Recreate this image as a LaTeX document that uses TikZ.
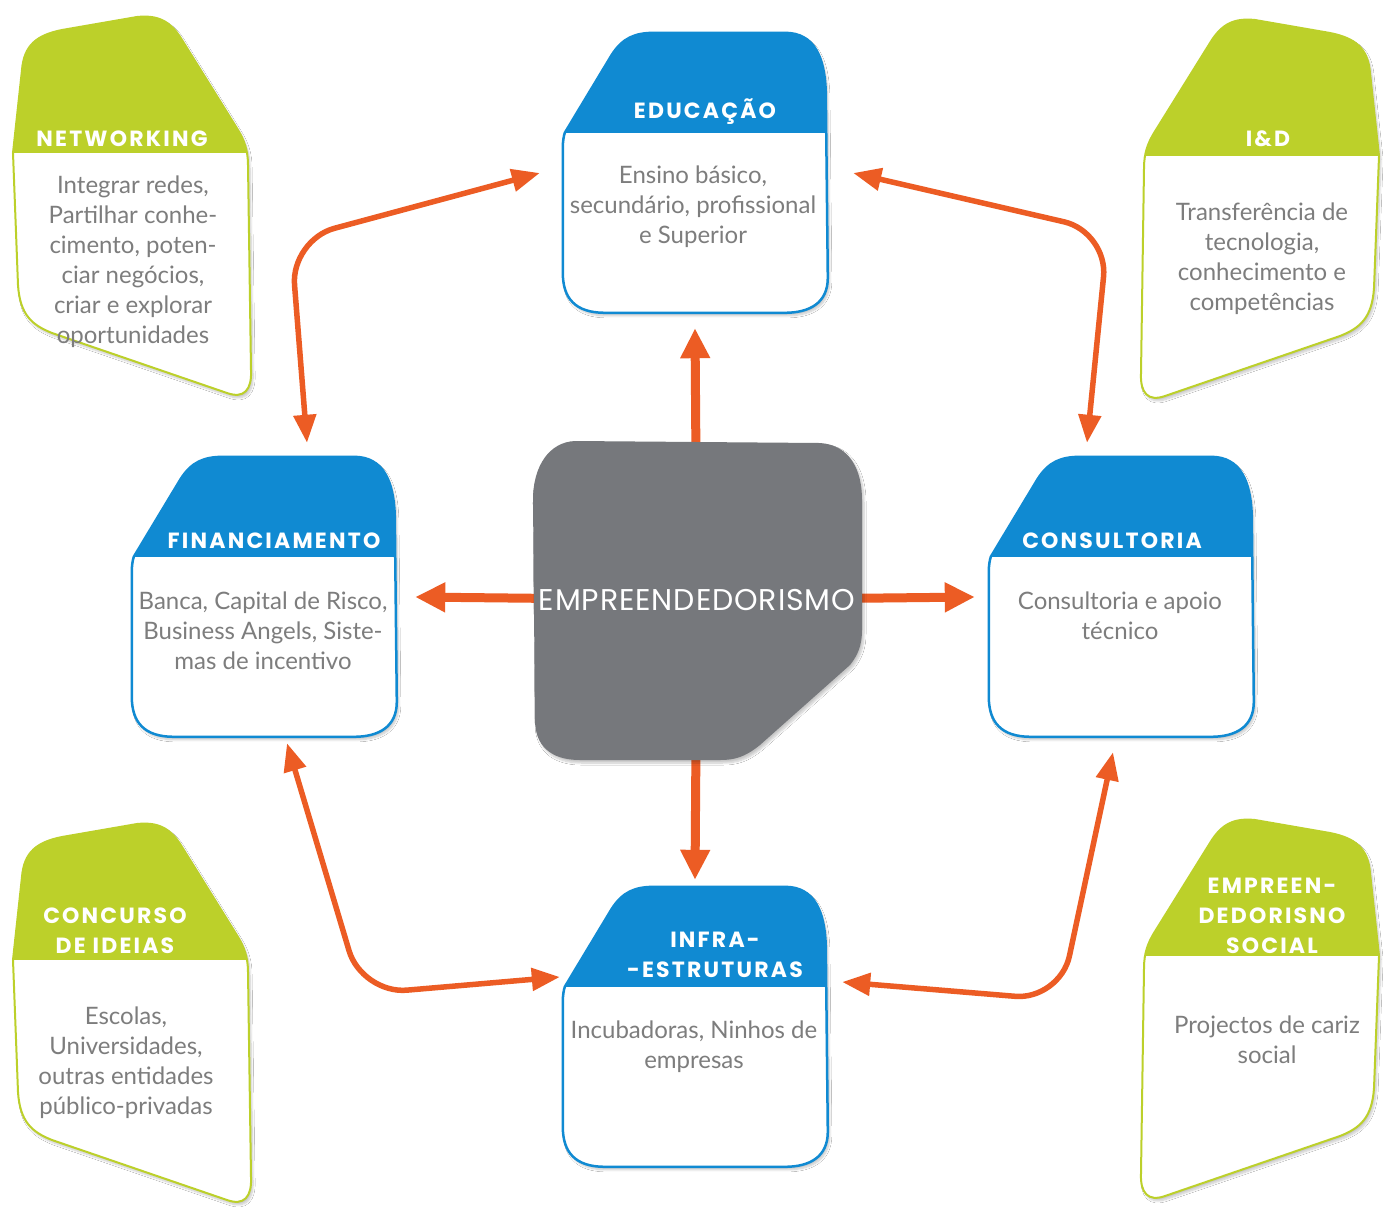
\documentclass[tikz,border=0pt]{standalone}
\usepackage{fontspec}
\setmainfont{Lato}
\newfontfamily\headfont{Poppins}[LetterSpace=10]
\newfontfamily\hubfont{Poppins}[LetterSpace=3]
\usetikzlibrary{arrows.meta, positioning, shadows.blur}

\definecolor{boxblue}{RGB}{16,138,210}
\definecolor{boxgreen}{RGB}{188,208,42}
\definecolor{hubgray}{RGB}{118,120,124}
\definecolor{linkorange}{RGB}{236,92,36}
\definecolor{textgray}{RGB}{125,125,125}

% outlines in local pixel units
\newcommand\blueoutline{(5,100) -- (52,22) .. controls (63,5) and (75,0) .. (95,0) -- (225,0) .. controls (255,0) and (265,25) .. (266,60) -- (268,245) .. controls (268,270) and (250,280) .. (225,280) -- (45,280) .. controls (15,280) and (3,265) .. (3,240) -- (3,115) .. controls (3,108) and (4,103) .. (5,100) -- cycle}
\newcommand\greenoutline{(1,138) -- (6,270) .. controls (8,300) and (20,310) .. (40,318) -- (215,378) .. controls (232,384) and (240,375) .. (239,355) -- (236,150) .. controls (236,135) and (232,125) .. (226,115) -- (170,25) .. controls (158,5) and (145,0) .. (125,2) -- (50,15) .. controls (25,20) and (12,30) .. (10,55) -- cycle}

\tikzset{
  softshadow/.style={blur shadow={shadow blur steps=8, shadow xshift=2pt, shadow yshift=-3pt, shadow opacity=22}},
  bluebox/.pic={
    \fill[white, softshadow] \blueoutline;
    \begin{scope}
      \clip \blueoutline;
      \fill[boxblue] (0,0) rectangle (270,100);
    \end{scope}
    \draw[boxblue, line width=2.5pt] \blueoutline;
  },
  greenbox/.pic={
    \fill[white, softshadow] \greenoutline;
    \begin{scope}
      \clip \greenoutline;
      \fill[boxgreen] (0,0) rectangle (245,138);
    \end{scope}
    \draw[boxgreen, line width=2pt] \greenoutline;
  }
}

\begin{document}
\begin{tikzpicture}[x=1pt, y=-1pt,
  boxarea/.style={minimum width=270pt, minimum height=280pt, inner sep=0pt},
  head/.style={text=white, align=center, inner sep=0pt, font=\headfont\bfseries\fontsize{22}{30}\selectfont},
  body/.style={text=textgray, align=center, inner sep=0pt, font=\fontsize{24}{30}\selectfont},
  bigarrow/.style={linkorange, line width=9pt, -{Triangle[length=30pt, width=28pt]}},
  linkarrow/.style={linkorange, line width=5.5pt, rounded corners=45pt, {Triangle[length=28pt, width=22pt]}-{Triangle[length=28pt, width=22pt]}}
]
  \useasboundingbox[fill=white] (0,0) rectangle (1383,1211);

  % green side boxes
  \pic at (12,15) {greenbox};
  \pic[xscale=-1] at (1380,18) {greenbox};
  \pic at (12,822) {greenbox};
  \pic[xscale=-1] at (1380,818) {greenbox};

  % blue boxes
  \node[boxarea] (edu) at (695,173) {};
  \node[boxarea] (fin) at (264,597) {};
  \node[boxarea] (con) at (1121,597) {};
  \node[boxarea] (inf) at (695,1027) {};
  \pic at (edu.north west) {bluebox};
  \pic at (fin.north west) {bluebox};
  \pic at (con.north west) {bluebox};
  \pic at (inf.north west) {bluebox};

  % links between the boxes
  \draw[linkarrow] ([xshift=-20pt]edu.west) -- (291,240) -- ([xshift=43pt,yshift=14pt]fin.north);
  \draw[linkarrow] ([xshift=23pt]edu.east) -- (1108,232) -- ([xshift=-34pt,yshift=14pt]con.north);
  \draw[linkarrow] ([xshift=23pt,yshift=-6pt]fin.south) -- (362,994) -- ([yshift=50pt]inf.west);
  \draw[linkarrow] ([xshift=12pt,yshift=45pt]inf.east) -- (1060,1000) -- ([xshift=-8pt,yshift=-15pt]con.south);

  % hub
  \coordinate (hub) at (697,600);
  \draw[bigarrow] (hub) -- ([yshift=-15pt]edu.south);
  \draw[bigarrow] (hub) -- ([yshift=7pt]inf.north);
  \draw[bigarrow] (hub) -- ([xshift=16pt]fin.east);
  \draw[bigarrow] (hub) -- ([xshift=-11pt]con.west);
  \fill[hubgray, softshadow] (575,441) -- (820,443) .. controls (850,445) and (862,470) .. (862,500) -- (862,630) .. controls (862,645) and (858,655) .. (850,665) -- (760,745) .. controls (745,757) and (735,760) .. (720,760) -- (580,760) .. controls (550,760) and (535,745) .. (535,720) -- (533,500) .. controls (533,465) and (550,442) .. (575,441) -- cycle;
  \node[text=white, inner sep=0pt, font=\hubfont\fontsize{30}{30}\selectfont] (emp) at (hub) {EMPREENDEDORISMO};

  % headings
  \node[head] (eduhead) at (705,112) {EDUCAÇÃO};
  \node[head] (finhead) at (274,541) {FINANCIAMENTO};
  \node[head] (conhead) at (1112,541) {CONSULTORIA};
  \node[head] (infhead) at (715,955) {INFRA-\\-ESTRUTURAS};
  \node[head] (nethead) at (122,139) {NETWORKING};
  \node[head] (idhead) at (1268,139) {I\&D};
  \node[head] (idehead) at (115,931) {CONCURSO\\DE IDEIAS};
  \node[head] (sochead) at (1272,916) {EMPREEN-\\DEDORISNO\\SOCIAL};

  % texts
  \node[body] (edutext) at (693,207) {Ensino básico,\\secundário, profissional\\e Superior};
  \node[body] (fintext) at (263,631) {Banca, Capital de Risco,\\Business Angels, Siste-\\mas de incentivo};
  \node[body] (context) at (1120,616) {Consultoria e apoio\\técnico};
  \node[body] (inftext) at (694,1047) {Incubadoras, Ninhos de\\empresas};
  \node[body] (nettext) at (133,262) {Integrar redes,\\Partilhar conhe-\\cimento, poten-\\ciar negócios,\\criar e explorar\\oportunidades};
  \node[body] (idtext) at (1262,259) {Transferência de\\tecnologia,\\conhecimento e\\competências};
  \node[body] (idetext) at (126,1063) {Escolas,\\Universidades,\\outras entidades\\público-privadas};
  \node[body] (soctext) at (1267,1040) {Projectos de cariz\\social};
\end{tikzpicture}
\end{document}
